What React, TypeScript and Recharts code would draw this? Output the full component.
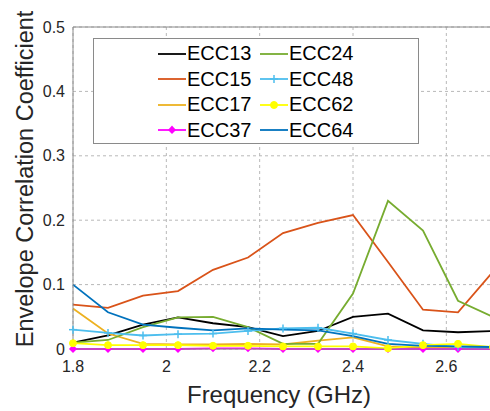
import { LineChart, Line, XAxis, YAxis, CartesianGrid, ReferenceLine } from "recharts";

const freq = [1.8, 1.875, 1.95, 2.025, 2.1, 2.175, 2.25, 2.325, 2.4, 2.475, 2.55, 2.625, 2.7];
const ecc13 = [0.010, 0.021, 0.038, 0.049, 0.040, 0.034, 0.020, 0.028, 0.050, 0.055, 0.029, 0.026, 0.028];
const ecc15 = [0.069, 0.064, 0.083, 0.090, 0.123, 0.142, 0.180, 0.196, 0.208, 0.135, 0.061, 0.057, 0.120];
const ecc17 = [0.063, 0.024, 0.008, 0.007, 0.007, 0.008, 0.007, 0.013, 0.018, 0.004, 0.002, 0.002, 0.002];
const ecc37 = [0.0, 0.0, 0.0, 0.0, 0.001, 0.001, 0.0, 0.0, 0.0, 0.0, 0.0, 0.0, 0.0];
const ecc24 = [0.010, 0.014, 0.034, 0.049, 0.050, 0.034, 0.008, 0.008, 0.086, 0.230, 0.184, 0.075, 0.050];
const ecc48 = [0.030, 0.025, 0.021, 0.023, 0.024, 0.028, 0.032, 0.033, 0.024, 0.014, 0.008, 0.003, 0.002];
const ecc62 = [0.009, 0.006, 0.006, 0.006, 0.005, 0.005, 0.004, 0.004, 0.004, 0.001, 0.006, 0.008, 0.003];
const ecc64 = [0.100, 0.057, 0.038, 0.033, 0.029, 0.032, 0.030, 0.029, 0.020, 0.008, 0.005, 0.004, 0.003];

const xTicks = [1.8, 2, 2.2, 2.4, 2.6];
const yTicks = [0, 0.1, 0.2, 0.3, 0.4, 0.5];

const series = [
  { key: "ECC13", values: ecc13, color: "#000000", marker: "none" },
  { key: "ECC15", values: ecc15, color: "#D95319", marker: "none" },
  { key: "ECC17", values: ecc17, color: "#EDB120", marker: "none" },
  { key: "ECC37", values: ecc37, color: "#FF00FF", marker: "diamond" },
  { key: "ECC24", values: ecc24, color: "#77AC30", marker: "none" },
  { key: "ECC48", values: ecc48, color: "#4DBEEE", marker: "plus" },
  { key: "ECC62", values: ecc62, color: "#FFFF00", marker: "circle" },
  { key: "ECC64", values: ecc64, color: "#0072BD", marker: "none" },
];

const data = freq.map((f, i) => {
  const row: any = { f };
  series.forEach((s) => (row[s.key] = s.values[i]));
  return row;
});

const font = "'Liberation Sans', Arial, sans-serif";

function Marker({ type, cx, cy, color }: any) {
  if (type === "plus")
    return (
      <g stroke={color} strokeWidth={1.5}>
        <line x1={cx - 4} y1={cy} x2={cx + 4} y2={cy} />
        <line x1={cx} y1={cy - 4} x2={cx} y2={cy + 4} />
      </g>
    );
  if (type === "circle") return <circle cx={cx} cy={cy} r={3.5} fill={color} stroke={color} />;
  if (type === "diamond")
    return <polygon points={`${cx},${cy - 4.5} ${cx + 4},${cy} ${cx},${cy + 4} ${cx - 4},${cy}`} fill={color} />;
  return null;
}

const makeDot = (type: string, color: string) => (props: any) =>
  type === "none" || props.cx == null ? (
    <g key={props.index} />
  ) : (
    <g key={props.index}>
      <Marker type={type} cx={props.cx} cy={props.cy} color={color} />
    </g>
  );

function LegendBox() {
  const col1 = series.slice(0, 4);
  const col2 = series.slice(4);
  const entry = (s: any) => (
    <div key={s.key} style={{ display: "flex", alignItems: "center", height: 25.5 }}>
      <svg width={29} height={20}>
        <line x1={0} y1={10} x2={28} y2={10} stroke={s.color} strokeWidth={1.8} />
        <Marker type={s.marker} cx={14} cy={10} color={s.color} />
      </svg>
      <span style={{ fontSize: 20, color: "#000" }}>{s.key}</span>
    </div>
  );
  return (
    <div
      style={{
        position: "absolute",
        left: 93,
        top: 38,
        width: 324,
        height: 104,
        border: "1px solid #8a8a8a",
        background: "#fff",
        display: "flex",
        fontFamily: font,
      }}
    >
      <div style={{ marginLeft: 64, marginTop: 2, width: 102 }}>{col1.map(entry)}</div>
      <div style={{ marginTop: 2 }}>{col2.map(entry)}</div>
    </div>
  );
}

export default function App() {
  return (
    <div style={{ position: "absolute", left: 0, top: 0, width: 490, height: 411, overflow: "hidden", background: "#fff" }}>
      <LineChart width={494} height={411} data={data} margin={{ top: 27, right: 1, left: 0, bottom: 0 }}>
        <CartesianGrid stroke="#b8b8b8" strokeDasharray="3 3" vertical horizontal />
        <XAxis
          dataKey="f"
          type="number"
          domain={[1.8, 2.7]}
          ticks={xTicks}
          height={62}
          tickSize={0}
          tickMargin={12}
          axisLine={{ stroke: "#8a8a8a" }}
          tick={{ fontSize: 16, fill: "#262626", fontFamily: font }}
          label={() => (
            <text x={279} y={403} textAnchor="middle" fontSize={24} fill="#262626" fontFamily={font}>
              Frequency (GHz)
            </text>
          )}
        />
        <YAxis
          type="number"
          domain={[0, 0.5]}
          ticks={yTicks}
          width={73}
          tickSize={0}
          tickMargin={8}
          axisLine={{ stroke: "#8a8a8a" }}
          tick={{ fontSize: 16, fill: "#262626", fontFamily: font }}
          label={() => (
            <text
              x={33}
              y={179}
              textAnchor="middle"
              fontSize={23.5}
              fill="#262626"
              fontFamily={font}
              transform="rotate(-90 33 179)"
            >
              Envelope Correlation Coefficient
            </text>
          )}
        />
        <ReferenceLine y={0.5} stroke="#8a8a8a" />
        {series.map((s) => (
          <Line
            key={s.key}
            dataKey={s.key}
            stroke={s.color}
            strokeWidth={1.8}
            dot={makeDot(s.marker, s.color)}
            activeDot={false}
            isAnimationActive={false}
            type="linear"
          />
        ))}
      </LineChart>
      <LegendBox />
    </div>
  );
}
